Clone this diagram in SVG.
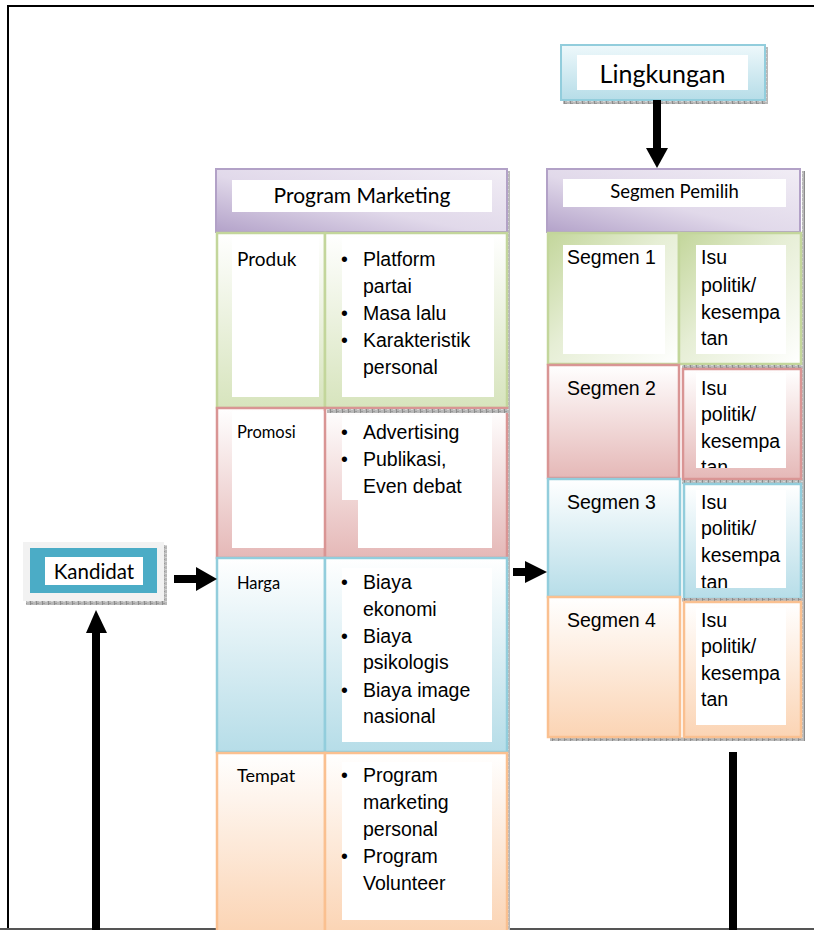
<svg xmlns="http://www.w3.org/2000/svg" width="814" height="930" viewBox="0 0 814 930">
  <defs>
    <pattern id="shade" width="6" height="4" patternUnits="userSpaceOnUse">
      <rect width="6" height="4" fill="#b9b9b9"/>
      <rect x="0" y="0" width="1" height="4" fill="#8c8c8c"/>
      <rect x="3" y="1" width="2" height="1" fill="#d6d6d6"/>
      <rect x="1" y="3" width="2" height="1" fill="#9a9a9a"/>
    </pattern>
    <linearGradient id="cyanBox" x1="0" y1="0" x2="0" y2="1">
      <stop offset="0" stop-color="#eef8fb"/>
      <stop offset="1" stop-color="#b6dde8"/>
    </linearGradient>
    <linearGradient id="lav" x1="1" y1="0" x2="0" y2="1">
      <stop offset="0" stop-color="#f1edf5"/>
      <stop offset="0.55" stop-color="#e1d9ea"/>
      <stop offset="1" stop-color="#b3a2c9"/>
    </linearGradient>
    <linearGradient id="green" x1="0" y1="0" x2="0" y2="1">
      <stop offset="0" stop-color="#ffffff"/>
      <stop offset="1" stop-color="#d7e4bd"/>
    </linearGradient>
    <linearGradient id="greenDiag" x1="0" y1="0" x2="1" y2="1">
      <stop offset="0" stop-color="#c3d69b"/>
      <stop offset="0.45" stop-color="#e6eed5"/>
      <stop offset="1" stop-color="#ffffff"/>
    </linearGradient>
    <linearGradient id="pink" x1="0" y1="0" x2="0" y2="1">
      <stop offset="0" stop-color="#ffffff"/>
      <stop offset="1" stop-color="#e5b8b7"/>
    </linearGradient>
    <linearGradient id="cyan" x1="0" y1="0" x2="0" y2="1">
      <stop offset="0" stop-color="#ffffff"/>
      <stop offset="1" stop-color="#b6dde8"/>
    </linearGradient>
    <linearGradient id="orange" x1="0" y1="0" x2="0" y2="1">
      <stop offset="0" stop-color="#ffffff"/>
      <stop offset="1" stop-color="#fbd4b4"/>
    </linearGradient>
    <clipPath id="clipSeg2"><rect x="696" y="373" width="90" height="95"/></clipPath>
    <clipPath id="clipSeg3"><rect x="696" y="490" width="90" height="98"/></clipPath>
  </defs>
  <style>
    .label { font-family: Lato, "Liberation Sans", sans-serif; fill: #000; }
    .body { font-family: "Liberation Sans", Arial, sans-serif; font-size: 19.5px; fill: #000; }
    .white { fill: #ffffff; }
    .shadow { fill: url(#shade); }
    .g { stroke: #c3d69b; stroke-width: 2.5; }
    .p { stroke: #d99594; stroke-width: 2.5; }
    .c { stroke: #92cddc; stroke-width: 2.5; }
    .o { stroke: #fac090; stroke-width: 2.5; }
  </style>

  <rect width="814" height="930" fill="#ffffff"/>

  <!-- page frame -->
  <g id="frame" stroke-linecap="square">
    <line x1="8" y1="6" x2="814" y2="6" stroke="#000" stroke-width="2"/>
    <line x1="8" y1="6" x2="8" y2="930" stroke="#000" stroke-width="2"/>
    <line x1="0" y1="929" x2="814" y2="929" stroke="#555" stroke-width="2"/>
  </g>

  <!-- environment -->
  <g id="lingkungan">
    <rect class="shadow" x="765" y="47" width="3" height="57"/>
    <rect class="shadow" x="563" y="100" width="205" height="4"/>
    <rect x="561" y="45" width="204" height="55" fill="url(#cyanBox)" stroke="#92cddc" stroke-width="2"/>
    <rect class="white" x="577" y="55" width="171" height="35"/>
    <text class="label" x="662.5" y="83" font-size="25" text-anchor="middle">Lingkungan</text>
  </g>

  <!-- candidate -->
  <g id="kandidat">
    <rect class="shadow" x="164" y="545" width="3" height="60"/>
    <rect class="shadow" x="26" y="601" width="141" height="4"/>
    <rect x="23" y="542" width="141" height="59" fill="#f2f2f2"/>
    <rect x="30" y="548" width="127" height="45" fill="#4bacc6"/>
    <rect class="white" x="45" y="557" width="98" height="28"/>
    <text class="label" x="94" y="579" font-size="20.5" text-anchor="middle">Kandidat</text>
  </g>

  <!-- marketing program column -->
  <g id="program-marketing">
    <rect class="shadow" x="507" y="171" width="3" height="759"/>
    <rect x="216" y="169" width="291" height="63" fill="url(#lav)" stroke="#b2a1c7" stroke-width="2"/>
    <rect class="white" x="232" y="180" width="260" height="32"/>
    <text class="label" x="362" y="203" font-size="21" text-anchor="middle">Program Marketing</text>
  </g>

  <g id="produk">
    <rect class="g" x="217" y="233" width="108" height="175" fill="url(#green)"/>
    <rect class="white" x="232" y="237" width="87" height="160"/>
    <rect class="g" x="325" y="233" width="182" height="175" fill="url(#green)"/>
    <rect class="white" x="342" y="238" width="152" height="159"/>
    <text class="label" x="237" y="266" font-size="19">Produk</text>
    <g class="body">
      <text x="341" y="266">•</text><text x="363" y="266">Platform</text>
      <text x="363" y="293">partai</text>
      <text x="341" y="320">•</text><text x="363" y="320">Masa lalu</text>
      <text x="341" y="347">•</text><text x="363" y="347">Karakteristik</text>
      <text x="363" y="374">personal</text>
    </g>
  </g>

  <g id="promosi">
    <rect class="p" x="217" y="408" width="108" height="150" fill="url(#pink)"/>
    <rect class="white" x="232" y="411" width="92" height="137"/>
    <rect class="p" x="325" y="408" width="182" height="150" fill="url(#pink)"/>
    <rect class="shadow" x="327" y="409" width="183" height="4"/>
    <rect class="white" x="342" y="415" width="150" height="85"/>
    <rect class="white" x="358" y="415" width="134" height="133"/>
    <text class="label" x="237" y="438" font-size="16.5">Promosi</text>
    <g class="body">
      <text x="341" y="439">•</text><text x="363" y="439">Advertising</text>
      <text x="341" y="466">•</text><text x="363" y="466">Publikasi,</text>
      <text x="363" y="493">Even debat</text>
    </g>
  </g>

  <g id="harga">
    <rect class="c" x="217" y="558" width="108" height="194" fill="url(#cyan)"/>
    <rect class="c" x="325" y="558" width="182" height="194" fill="url(#cyan)"/>
    <rect class="white" x="342" y="568" width="150" height="174"/>
    <text class="label" x="237" y="589" font-size="16.5">Harga</text>
    <g class="body">
      <text x="341" y="589">•</text><text x="363" y="589">Biaya</text>
      <text x="363" y="616">ekonomi</text>
      <text x="341" y="643">•</text><text x="363" y="643">Biaya</text>
      <text x="363" y="669">psikologis</text>
      <text x="341" y="697">•</text><text x="363" y="697">Biaya image</text>
      <text x="363" y="723">nasional</text>
    </g>
  </g>

  <g id="tempat">
    <rect class="o" x="217" y="753" width="108" height="180" fill="url(#orange)"/>
    <rect class="o" x="325" y="753" width="182" height="180" fill="url(#orange)"/>
    <rect class="white" x="342" y="762" width="150" height="158"/>
    <text class="label" x="237" y="782" font-size="18">Tempat</text>
    <g class="body">
      <text x="341" y="782">•</text><text x="363" y="782">Program</text>
      <text x="363" y="809">marketing</text>
      <text x="363" y="836">personal</text>
      <text x="341" y="863">•</text><text x="363" y="863">Program</text>
      <text x="363" y="890">Volunteer</text>
    </g>
  </g>

  <!-- voter segments column -->
  <g id="segmen-pemilih">
    <rect class="shadow" x="802" y="171" width="3" height="570"/>
    <rect class="shadow" x="550" y="737" width="255" height="4"/>
    <rect x="547" y="169" width="253" height="63" fill="url(#lav)" stroke="#b2a1c7" stroke-width="2"/>
    <rect class="white" x="563" y="179" width="223" height="28"/>
    <text class="label" x="674.5" y="198" font-size="18.5" text-anchor="middle">Segmen Pemilih</text>
  </g>

  <g id="segmen-1">
    <rect class="g" x="548" y="233" width="131" height="131" fill="url(#greenDiag)"/>
    <rect class="g" x="679" y="233" width="122" height="131" fill="url(#greenDiag)"/>
    <rect class="white" x="563" y="245" width="102" height="109"/>
    <rect class="white" x="696" y="245" width="90" height="109"/>
    <g class="body">
      <text x="567" y="264">Segmen 1</text>
      <text x="701" y="264">Isu</text>
      <text x="701" y="292">politik/</text>
      <text x="701" y="319">kesempa</text>
      <text x="701" y="345">tan</text>
    </g>
  </g>

  <g id="segmen-2">
    <rect class="p" x="548" y="365" width="131" height="113" fill="url(#pink)"/>
    <rect class="shadow" x="682" y="365" width="123" height="4"/>
    <rect class="p" x="683" y="369" width="118" height="110" fill="url(#pink)"/>
    <rect class="white" x="696" y="373" width="90" height="95"/>
    <g class="body">
      <text x="567" y="395">Segmen 2</text>
      <text x="701" y="395">Isu</text>
      <text x="701" y="421">politik/</text>
      <text x="701" y="448">kesempa</text>
      <text x="701" y="474" clip-path="url(#clipSeg2)">tan</text>
    </g>
  </g>

  <g id="segmen-3">
    <rect class="c" x="548" y="479" width="132" height="118" fill="url(#cyan)"/>
    <rect class="shadow" x="682" y="480" width="123" height="4"/>
    <rect class="c" x="684" y="484" width="117" height="115" fill="url(#cyan)"/>
    <rect class="white" x="696" y="490" width="90" height="98"/>
    <g class="body">
      <text x="567" y="509">Segmen 3</text>
      <text x="701" y="509">Isu</text>
      <text x="701" y="535">politik/</text>
      <text x="701" y="562">kesempa</text>
      <text x="701" y="589" clip-path="url(#clipSeg3)">tan</text>
    </g>
  </g>

  <g id="segmen-4">
    <rect class="o" x="548" y="597" width="132" height="140" fill="url(#orange)"/>
    <rect class="shadow" x="682" y="598" width="123" height="4"/>
    <rect class="o" x="684" y="602" width="117" height="135" fill="url(#orange)"/>
    <rect class="white" x="696" y="608" width="90" height="117"/>
    <g class="body">
      <text x="567" y="627">Segmen 4</text>
      <text x="701" y="627">Isu</text>
      <text x="701" y="653">politik/</text>
      <text x="701" y="680">kesempa</text>
      <text x="701" y="706">tan</text>
    </g>
  </g>

  <!-- arrows and lines -->
  <g id="connectors" fill="#000">
    <rect x="653" y="100" width="8" height="49"/>
    <polygon points="646,148 668,148 657,168"/>
    <rect x="174" y="575" width="23" height="8"/>
    <polygon points="196,567 196,591 217,579"/>
    <rect x="513" y="568" width="13" height="8"/>
    <polygon points="525,561 525,583 547,572"/>
    <rect x="92" y="632" width="8" height="298"/>
    <polygon points="86,633 107,633 96,610"/>
    <rect x="729" y="752" width="8" height="178"/>
  </g>
</svg>
